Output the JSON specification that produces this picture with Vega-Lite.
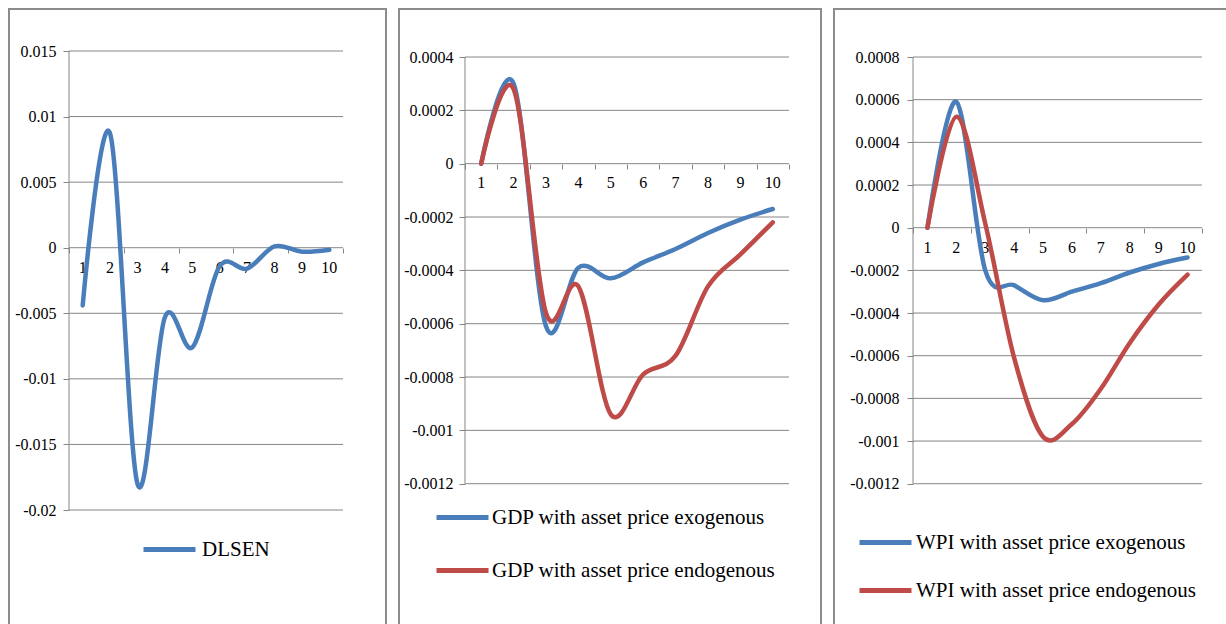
{
  "$schema": "https://vega.github.io/schema/vega-lite/v6.json",
  "background": "white",
  "padding": {"left": 8, "top": 8, "right": 0, "bottom": 0},
  "spacing": 13,
  "bounds": "flush",
  "resolve": {"scale": {"color": "independent", "x": "independent", "y": "independent"}, "legend": {"color": "independent"}},
  "config": {
    "view": {"stroke": "#8c8c8c", "strokeWidth": 2},
    "axis": {"labelFont": "Liberation Serif", "labelFontSize": 16, "labelColor": "#000000", "domain": false, "grid": false, "tickColor": "#868686", "tickWidth": 1, "labelFlush": false, "labelOverlap": false, "labelBound": false},
    "text": {"font": "Liberation Serif", "fontSize": 16, "color": "#000000"},
    "legend": {"labelFont": "Liberation Serif", "labelFontSize": 21, "labelColor": "#000000", "symbolType": "stroke", "symbolSize": 2704, "symbolStrokeWidth": 5, "labelLimit": 600, "padding": 0}
  },
  "hconcat": [
    {
      "width": 377,
      "height": 626,
      "layer": [
        {
          "data": {"values": [{"y": 0.015}, {"y": 0.01}, {"y": 0.005}, {"y": 0}, {"y": -0.005}, {"y": -0.01}, {"y": -0.015}, {"y": -0.02}]},
          "mark": {"type": "rule", "color": "#868686", "strokeWidth": 1},
          "encoding": {
            "y": {"field": "y", "type": "quantitative", "title": null, "scale": {"domain": [-0.0295316, 0.0182027], "nice": false, "zero": false}},
            "x": {"datum": 0.5, "type": "quantitative", "title": null, "scale": {"domain": [-1.6898, 12.0693], "nice": false, "zero": false}},
            "x2": {"datum": 10.5}
          }
        },
        {
          "data": {"values": [{"y": -0.02, "y2": 0.015}]},
          "mark": {"type": "rule", "color": "#868686", "strokeWidth": 1},
          "encoding": {
            "x": {"datum": 0.5, "type": "quantitative", "title": null, "scale": {"domain": [-1.6898, 12.0693], "nice": false, "zero": false}},
            "y": {"field": "y", "type": "quantitative", "title": null, "scale": {"domain": [-0.0295316, 0.0182027], "nice": false, "zero": false}},
            "y2": {"field": "y2"}
          }
        },
        {
          "data": {"values": [{"t": 1, "y": 0}, {"t": 2, "y": 0}, {"t": 3, "y": 0}, {"t": 4, "y": 0}, {"t": 5, "y": 0}, {"t": 6, "y": 0}, {"t": 7, "y": 0}, {"t": 8, "y": 0}, {"t": 9, "y": 0}, {"t": 10, "y": 0}]},
          "mark": {"type": "text", "dy": 20, "baseline": "middle", "align": "center"},
          "encoding": {
            "x": {"field": "t", "type": "quantitative", "title": null, "scale": {"domain": [-1.6898, 12.0693], "nice": false, "zero": false}},
            "y": {"field": "y", "type": "quantitative", "title": null, "scale": {"domain": [-0.0295316, 0.0182027], "nice": false, "zero": false}},
            "text": {"field": "t", "type": "nominal"}
          }
        },
        {
          "data": {"values": [
            {"t": 1, "s": "DLSEN", "v": -0.0044},
            {"t": 2, "s": "DLSEN", "v": 0.0087},
            {"t": 3, "s": "DLSEN", "v": -0.018},
            {"t": 4, "s": "DLSEN", "v": -0.0053},
            {"t": 5, "s": "DLSEN", "v": -0.0076},
            {"t": 6, "s": "DLSEN", "v": -0.0014},
            {"t": 7, "s": "DLSEN", "v": -0.0016},
            {"t": 8, "s": "DLSEN", "v": 0.0001},
            {"t": 9, "s": "DLSEN", "v": -0.0003},
            {"t": 10, "s": "DLSEN", "v": -0.00015}
          ]},
          "mark": {"type": "line", "interpolate": "cardinal", "tension": 0, "strokeWidth": 4.5, "strokeCap": "round"},
          "encoding": {
            "x": {"field": "t", "type": "quantitative", "title": null, "scale": {"domain": [-1.6898, 12.0693], "nice": false, "zero": false},
              "axis": {"orient": "bottom", "offset": -387, "values": [0.5, 1.5, 2.5, 3.5, 4.5, 5.5, 6.5, 7.5, 8.5, 9.5, 10.5], "labels": false, "tickSize": 5, "title": null}},
            "y": {"field": "v", "type": "quantitative", "title": null, "scale": {"domain": [-0.0295316, 0.0182027], "nice": false, "zero": false},
              "axis": {"orient": "left", "offset": -60, "values": [0.015, 0.01, 0.005, 0, -0.005, -0.01, -0.015, -0.02], "labelExpr": "'' + datum.value", "tickSize": 6, "labelPadding": 7, "labelOverlap": false, "title": null}},
            "color": {"field": "s", "type": "nominal", "scale": {"domain": ["DLSEN"], "range": ["#4A7EBB"]},
              "legend": {"orient": "none", "legendX": 132, "legendY": 512, "title": null, "labelOffset": 4}}
          }
        }
      ]
    },
    {
      "width": 422,
      "height": 626,
      "layer": [
        {
          "data": {"values": [{"y": 0.0004}, {"y": 0.0002}, {"y": 0}, {"y": -0.0002}, {"y": -0.0004}, {"y": -0.0006}, {"y": -0.0008}, {"y": -0.001}, {"y": -0.0012}]},
          "mark": {"type": "rule", "color": "#868686", "strokeWidth": 1},
          "encoding": {
            "y": {"field": "y", "type": "quantitative", "title": null, "scale": {"domain": [-0.00176733, 0.00058], "nice": false, "zero": false}},
            "x": {"datum": 0.5, "type": "quantitative", "title": null, "scale": {"domain": [-1.537, 11.488], "nice": false, "zero": false}},
            "x2": {"datum": 10.5}
          }
        },
        {
          "data": {"values": [{"y": -0.0012, "y2": 0.0004}]},
          "mark": {"type": "rule", "color": "#868686", "strokeWidth": 1},
          "encoding": {
            "x": {"datum": 0.5, "type": "quantitative", "title": null, "scale": {"domain": [-1.537, 11.488], "nice": false, "zero": false}},
            "y": {"field": "y", "type": "quantitative", "title": null, "scale": {"domain": [-0.00176733, 0.00058], "nice": false, "zero": false}},
            "y2": {"field": "y2"}
          }
        },
        {
          "data": {"values": [{"t": 1, "y": 0}, {"t": 2, "y": 0}, {"t": 3, "y": 0}, {"t": 4, "y": 0}, {"t": 5, "y": 0}, {"t": 6, "y": 0}, {"t": 7, "y": 0}, {"t": 8, "y": 0}, {"t": 9, "y": 0}, {"t": 10, "y": 0}]},
          "mark": {"type": "text", "dy": 19, "baseline": "middle", "align": "center"},
          "encoding": {
            "x": {"field": "t", "type": "quantitative", "title": null, "scale": {"domain": [-1.537, 11.488], "nice": false, "zero": false}},
            "y": {"field": "y", "type": "quantitative", "title": null, "scale": {"domain": [-0.00176733, 0.00058], "nice": false, "zero": false}},
            "text": {"field": "t", "type": "nominal"}
          }
        },
        {
          "data": {"values": [
            {"t": 1, "s": "GDP with asset price exogenous", "v": 0},
            {"t": 2, "s": "GDP with asset price exogenous", "v": 0.0003},
            {"t": 3, "s": "GDP with asset price exogenous", "v": -0.00061},
            {"t": 4, "s": "GDP with asset price exogenous", "v": -0.00039},
            {"t": 5, "s": "GDP with asset price exogenous", "v": -0.00043},
            {"t": 6, "s": "GDP with asset price exogenous", "v": -0.00037},
            {"t": 7, "s": "GDP with asset price exogenous", "v": -0.00032},
            {"t": 8, "s": "GDP with asset price exogenous", "v": -0.00026},
            {"t": 9, "s": "GDP with asset price exogenous", "v": -0.00021},
            {"t": 10, "s": "GDP with asset price exogenous", "v": -0.00017},
            {"t": 1, "s": "GDP with asset price endogenous", "v": 0},
            {"t": 2, "s": "GDP with asset price endogenous", "v": 0.00028},
            {"t": 3, "s": "GDP with asset price endogenous", "v": -0.00056},
            {"t": 4, "s": "GDP with asset price endogenous", "v": -0.00046},
            {"t": 5, "s": "GDP with asset price endogenous", "v": -0.00094},
            {"t": 6, "s": "GDP with asset price endogenous", "v": -0.00079},
            {"t": 7, "s": "GDP with asset price endogenous", "v": -0.00072},
            {"t": 8, "s": "GDP with asset price endogenous", "v": -0.00046},
            {"t": 9, "s": "GDP with asset price endogenous", "v": -0.00034},
            {"t": 10, "s": "GDP with asset price endogenous", "v": -0.00022}
          ]},
          "mark": {"type": "line", "interpolate": "cardinal", "tension": 0, "strokeWidth": 4.5, "strokeCap": "round"},
          "encoding": {
            "x": {"field": "t", "type": "quantitative", "title": null, "scale": {"domain": [-1.537, 11.488], "nice": false, "zero": false},
              "axis": {"orient": "bottom", "offset": -471, "values": [0.5, 1.5, 2.5, 3.5, 4.5, 5.5, 6.5, 7.5, 8.5, 9.5, 10.5], "labels": false, "tickSize": 5, "title": null}},
            "y": {"field": "v", "type": "quantitative", "title": null, "scale": {"domain": [-0.00176733, 0.00058], "nice": false, "zero": false},
              "axis": {"orient": "left", "offset": -66, "values": [0.0004, 0.0002, 0, -0.0002, -0.0004, -0.0006, -0.0008, -0.001, -0.0012], "labelExpr": "'' + datum.value", "tickSize": 6, "labelPadding": 6, "labelOverlap": false, "title": null}},
            "color": {"field": "s", "type": "nominal", "scale": {"domain": ["GDP with asset price exogenous", "GDP with asset price endogenous"], "range": ["#4A7EBB", "#BE4B48"]},
              "legend": {"orient": "none", "legendX": 35, "legendY": 480, "title": null, "rowPadding": 14, "labelOffset": 1}}
          }
        }
      ]
    },
    {
      "width": 400,
      "height": 626,
      "layer": [
        {
          "data": {"values": [{"y": 0.0008}, {"y": 0.0006}, {"y": 0.0004}, {"y": 0.0002}, {"y": 0}, {"y": -0.0002}, {"y": -0.0004}, {"y": -0.0006}, {"y": -0.0008}, {"y": -0.001}, {"y": -0.0012}]},
          "mark": {"type": "rule", "color": "#868686", "strokeWidth": 1},
          "encoding": {
            "y": {"field": "y", "type": "quantitative", "title": null, "scale": {"domain": [-0.001909, 0.001025], "nice": false, "zero": false}},
            "x": {"datum": 0.5, "type": "quantitative", "title": null, "scale": {"domain": [-2.2336, 11.6073], "nice": false, "zero": false}},
            "x2": {"datum": 10.5}
          }
        },
        {
          "data": {"values": [{"y": -0.0012, "y2": 0.0008}]},
          "mark": {"type": "rule", "color": "#868686", "strokeWidth": 1},
          "encoding": {
            "x": {"datum": 0.5, "type": "quantitative", "title": null, "scale": {"domain": [-2.2336, 11.6073], "nice": false, "zero": false}},
            "y": {"field": "y", "type": "quantitative", "title": null, "scale": {"domain": [-0.001909, 0.001025], "nice": false, "zero": false}},
            "y2": {"field": "y2"}
          }
        },
        {
          "data": {"values": [{"t": 1, "y": 0}, {"t": 2, "y": 0}, {"t": 3, "y": 0}, {"t": 4, "y": 0}, {"t": 5, "y": 0}, {"t": 6, "y": 0}, {"t": 7, "y": 0}, {"t": 8, "y": 0}, {"t": 9, "y": 0}, {"t": 10, "y": 0}]},
          "mark": {"type": "text", "dy": 20, "baseline": "middle", "align": "center"},
          "encoding": {
            "x": {"field": "t", "type": "quantitative", "title": null, "scale": {"domain": [-2.2336, 11.6073], "nice": false, "zero": false}},
            "y": {"field": "y", "type": "quantitative", "title": null, "scale": {"domain": [-0.001909, 0.001025], "nice": false, "zero": false}},
            "text": {"field": "t", "type": "nominal"}
          }
        },
        {
          "data": {"values": [
            {"t": 1, "s": "WPI with asset price exogenous", "v": 0},
            {"t": 2, "s": "WPI with asset price exogenous", "v": 0.00059},
            {"t": 3, "s": "WPI with asset price exogenous", "v": -0.0002},
            {"t": 4, "s": "WPI with asset price exogenous", "v": -0.00027},
            {"t": 5, "s": "WPI with asset price exogenous", "v": -0.00034},
            {"t": 6, "s": "WPI with asset price exogenous", "v": -0.0003},
            {"t": 7, "s": "WPI with asset price exogenous", "v": -0.00026},
            {"t": 8, "s": "WPI with asset price exogenous", "v": -0.00021},
            {"t": 9, "s": "WPI with asset price exogenous", "v": -0.00017},
            {"t": 10, "s": "WPI with asset price exogenous", "v": -0.00014},
            {"t": 1, "s": "WPI with asset price endogenous", "v": 0},
            {"t": 2, "s": "WPI with asset price endogenous", "v": 0.00052},
            {"t": 3, "s": "WPI with asset price endogenous", "v": 0.00002},
            {"t": 4, "s": "WPI with asset price endogenous", "v": -0.00061},
            {"t": 5, "s": "WPI with asset price endogenous", "v": -0.00098},
            {"t": 6, "s": "WPI with asset price endogenous", "v": -0.00092},
            {"t": 7, "s": "WPI with asset price endogenous", "v": -0.000755},
            {"t": 8, "s": "WPI with asset price endogenous", "v": -0.00054},
            {"t": 9, "s": "WPI with asset price endogenous", "v": -0.00036},
            {"t": 10, "s": "WPI with asset price endogenous", "v": -0.00022}
          ]},
          "mark": {"type": "line", "interpolate": "cardinal", "tension": 0, "strokeWidth": 4.5, "strokeCap": "round"},
          "encoding": {
            "x": {"field": "t", "type": "quantitative", "title": null, "scale": {"domain": [-2.2336, 11.6073], "nice": false, "zero": false},
              "axis": {"orient": "bottom", "offset": -407, "values": [0.5, 1.5, 2.5, 3.5, 4.5, 5.5, 6.5, 7.5, 8.5, 9.5, 10.5], "labels": false, "tickSize": 5, "title": null}},
            "y": {"field": "v", "type": "quantitative", "title": null, "scale": {"domain": [-0.001909, 0.001025], "nice": false, "zero": false},
              "axis": {"orient": "left", "offset": -79, "values": [0.0008, 0.0006, 0.0004, 0.0002, 0, -0.0002, -0.0004, -0.0006, -0.0008, -0.001, -0.0012], "labelExpr": "'' + datum.value", "tickSize": 6, "labelPadding": 8, "labelOverlap": false, "title": null}},
            "color": {"field": "s", "type": "nominal", "scale": {"domain": ["WPI with asset price exogenous", "WPI with asset price endogenous"], "range": ["#4A7EBB", "#BE4B48"]},
              "legend": {"orient": "none", "legendX": 23, "legendY": 505, "title": null, "rowPadding": 9, "labelOffset": 2}}
          }
        }
      ]
    }
  ]
}
